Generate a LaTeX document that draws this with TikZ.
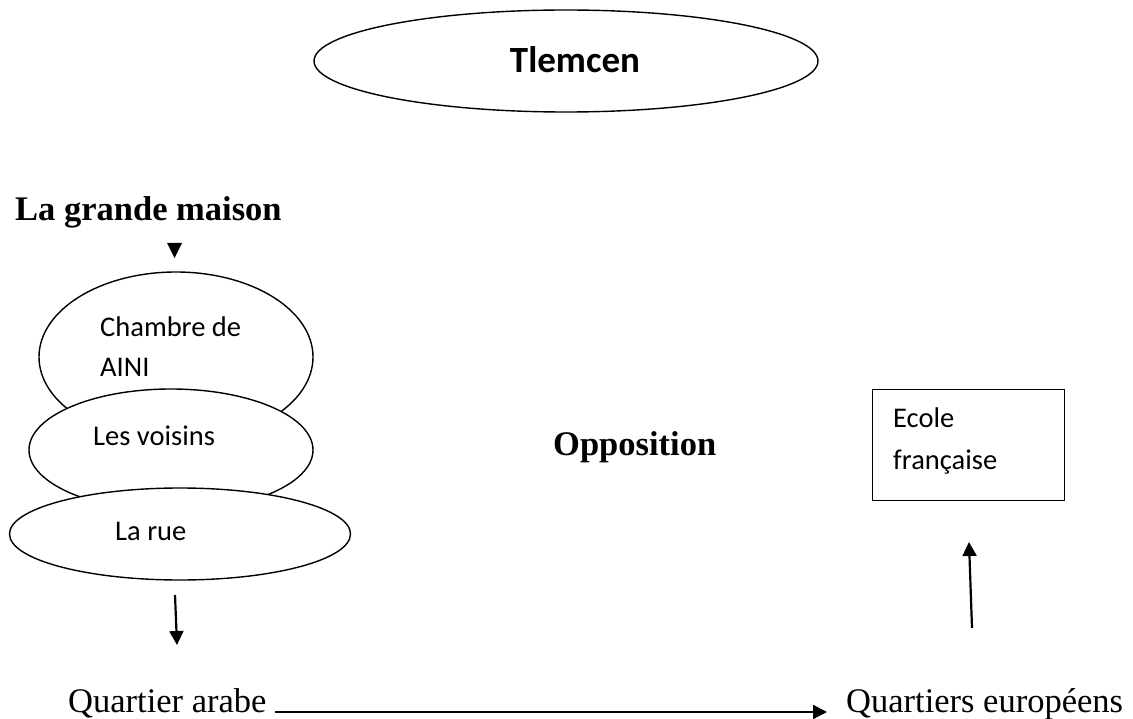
\documentclass[tikz,border=0pt]{standalone}
\usepackage{fontspec}
\newfontfamily\calfont{Carlito}
\newfontfamily\tmsfont{Liberation Serif}
\usetikzlibrary{shapes.geometric,arrows.meta}
\begin{document}
\begin{tikzpicture}[x=1pt,y=-1pt,
  oval/.style={ellipse,draw,line width=1.4pt,fill=white,inner sep=0pt},
  caltext/.style={font=\calfont\fontsize{28.5}{34}\selectfont,inner sep=0pt,anchor=base west},
  tmstext/.style={font=\tmsfont\fontsize{34.5}{40}\selectfont,inner sep=0pt,anchor=base west},
  arr/.style={line width=2.2pt,-{Triangle[length=14pt,width=14pt]}}]
\useasboundingbox (0,0) rectangle (1133,719);
% title
\node[oval,minimum width=504pt,minimum height=102pt] (title) at (566,61) {};
\node[font=\calfont\bfseries\fontsize{37}{44}\selectfont,inner sep=0pt,anchor=base] (tlemcen) at (575,73) {Tlemcen};
% left column
\node[tmstext,font=\tmsfont\bfseries\fontsize{34.5}{40}\selectfont] (maison) at (15,221) {La grande maison};
\fill (167,243) -- (182,243) -- (174.5,258) -- cycle;
\node[oval,minimum width=274pt,minimum height=170pt] (e1) at (176,357) {};
\node[caltext] (chambre) at (100,337) {Chambre de};
\node[caltext] (aini) at (100,377) {AINI};
\node[oval,minimum width=284pt,minimum height=122pt] (e2) at (171,450) {};
\node[caltext] (voisins) at (93,445) {Les voisins};
\node[oval,minimum width=341pt,minimum height=92pt] (e3) at (180,534) {};
\node[caltext] (rue) at (115,540) {La rue};
% middle
\node[tmstext,font=\tmsfont\bfseries\fontsize{34.5}{40}\selectfont] (opp) at (553,455) {Opposition};
% right
\node[draw,line width=1.4pt,minimum width=192pt,minimum height=111pt,anchor=north west,inner sep=0pt] (box) at (872,389) {};
\node[caltext] (ecole) at (893,428) {Ecole};
\node[caltext] (fr) at (893,469) {française};
% bottom
\node[tmstext] (qa) at (68,712) {Quartier arabe};
\node[tmstext] (qe) at (846,712) {Quartiers européens};
\coordinate (d1) at (175,595);
\coordinate (d2) at (177,645);
\coordinate (h1) at (275,712);
\coordinate (h2) at (827,712);
\coordinate (u1) at (972,628);
\coordinate (u2) at (969,542);
\draw[arr] (d1) -- (d2);
\draw[arr] (h1) -- (h2);
\draw[arr] (u1) -- (u2);
\end{tikzpicture}
\end{document}
